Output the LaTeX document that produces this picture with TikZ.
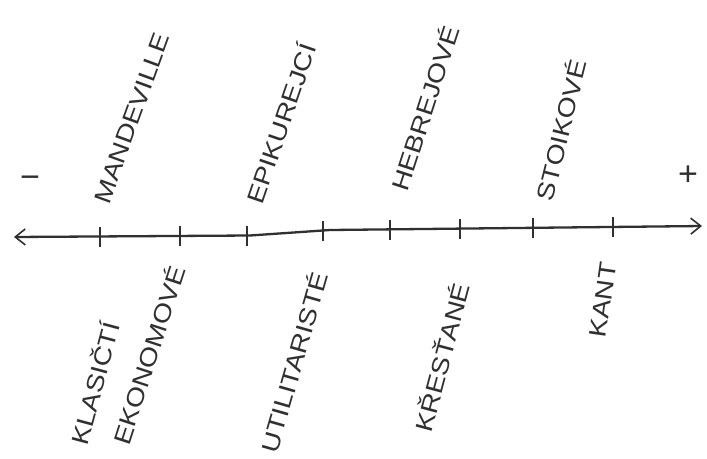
\documentclass[tikz,border=0pt]{standalone}
\usepackage{fontspec}
\setmainfont{Liberation Sans}
\usetikzlibrary{arrows.meta}
\definecolor{ink}{HTML}{303030}
\newcommand{\widetext}[1]{\scalebox{1.18}[1]{#1}}
\begin{document}
\begin{tikzpicture}[x=1pt,y=-1pt,
  lab/.style={font=\fontsize{24}{26}\selectfont, text=ink, inner sep=0pt},
  sign/.style={font=\fontsize{34}{36}\selectfont, text=ink, inner sep=0pt},
  axis/.style={draw=ink, line width=2.3pt, line join=round, {Straight Barb[length=10pt,width=16pt,line width=1.6pt]}-{Straight Barb[length=10pt,width=16pt,line width=1.6pt]}},
  tick/.style={draw=ink, line width=1.4pt}]
\useasboundingbox[fill=white] (0,0) rectangle (707,458);
% axis
\coordinate (L) at (14,237);
\coordinate (R) at (702,226);
\draw[axis] (L) -- (250,235.5) -- (330,230) -- (R);
% ticks
\foreach \x/\y in {100/236.5,180/236,247/235.5,323/231,390/229.5,460/228.5,533/228,613/227}
  \draw[tick] (\x,\y-10) -- (\x,\y+10);
% signs
\node[sign] (minus) at (30,182) {−};
\node[sign] (plus) at (688,176) {+};
% upper labels
\node[lab, rotate=70] (mand) at (132,118) {\widetext{MANDEVILLE}};
\node[lab, rotate=71] (epik) at (280,123) {\widetext{EPIKUREJCÍ}};
\node[lab, rotate=72] (hebr) at (424,108) {\widetext{HEBREJOVÉ}};
\node[lab, rotate=76] (stoi) at (560,130) {\widetext{STOIKOVÉ}};
% lower labels
\node[lab, rotate=75] (klas) at (94,383) {\widetext{KLASIČTÍ}};
\node[lab, rotate=72] (ekon) at (148,355) {\widetext{EKONOMOVÉ}};
\node[lab, rotate=74] (util) at (293,362) {\widetext{UTILITARISTÉ}};
\node[lab, rotate=75] (kres) at (441,357) {\widetext{KŘESŤANÉ}};
\node[lab, rotate=82] (kant) at (603,300) {\widetext{KANT}};
\end{tikzpicture}
\end{document}
